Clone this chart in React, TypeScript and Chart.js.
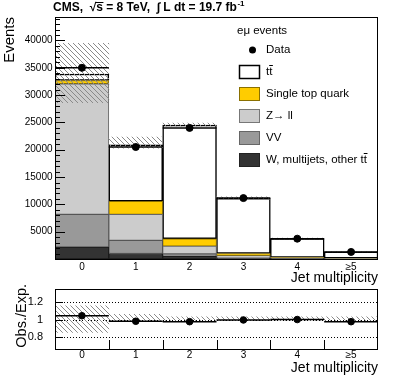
import React, { useEffect, useRef } from "react";
import { Chart, registerables } from "chart.js";

Chart.register(...registerables);

// ---------- data ----------
const jetBins = ["0", "1", "2", "3", "4", "≥5"];
const wOther = [2170, 1000, 500, 150, 60, 30];
const dibosons = [6010, 2400, 450, 200, 60, 30];
const zll = [23900, 4780, 1400, 250, 50, 20];
const singleTop = [600, 2390, 1350, 400, 100, 60];
const ttbar = [1180, 10350, 20800, 10100, 3450, 1180];
const dataCounts = [35000, 20500, 24000, 11150, 3720, 1290];
const uncLow = [28600, 20300, 24300, 10950, 3680, 1300];
const uncHigh = [39500, 22300, 24900, 11400, 3830, 1360];

const ratioVals = [1.044, 0.98, 0.975, 0.995, 1.0, 0.975];
const ratioUncLow = [0.85, 0.98, 0.99, 0.99, 0.99, 0.99];
const ratioUncHigh = [1.16, 1.06, 1.03, 1.03, 1.03, 1.03];

const topTicks = [5000, 10000, 15000, 20000, 25000, 30000, 35000, 40000];
const ratioTicks = [0.8, 1, 1.2];

const FONT = "'Liberation Sans', Arial, Helvetica, sans-serif";

const COLORS = {
  w: "#333333",
  vv: "#999999",
  z: "#cccccc",
  st: "#ffcc00",
  tt: "#ffffff",
};

function makeHatch(): CanvasPattern | string {
  const c = document.createElement("canvas");
  c.width = 5;
  c.height = 5;
  const g = c.getContext("2d");
  if (!g) return "rgba(0,0,0,0.2)";
  g.strokeStyle = "#8a8a8a";
  g.lineWidth = 1;
  g.beginPath();
  for (const k of [-5, 0, 5]) {
    g.moveTo(k, 0);
    g.lineTo(k + 5, 5);
  }
  g.stroke();
  return g.createPattern(c, "repeat") || "rgba(0,0,0,0.2)";
}

function line(ctx: CanvasRenderingContext2D, x0: number, y0: number, x1: number, y1: number) {
  ctx.beginPath();
  ctx.moveTo(x0, y0);
  ctx.lineTo(x1, y1);
  ctx.stroke();
}

// draws prefix + "tt" with a bar over the last t
function drawTTbar(ctx: CanvasRenderingContext2D, text: string, x: number, y: number) {
  const full = text + "tt";
  ctx.fillText(full, x, y);
  const wAll = ctx.measureText(full).width;
  const wT = ctx.measureText("t").width;
  const xs = x + wAll - wT;
  ctx.save();
  ctx.lineWidth = 1;
  ctx.strokeStyle = "#000";
  line(ctx, xs, y - 6.5, xs + wT + 0.5, y - 6.5);
  ctx.restore();
}

const topDecor = {
  id: "topDecor",
  afterDatasetsDraw(chart: any) {
    const { ctx, chartArea: a, scales } = chart;
    const x = scales.x;
    const y = scales.y;
    ctx.save();
    // data horizontal bin-width bars
    ctx.strokeStyle = "#000";
    ctx.lineWidth = 1.5;
    dataCounts.forEach((v, i) => {
      const yy = y.getPixelForValue(v);
      line(ctx, x.getPixelForValue(i - 0.5), yy, x.getPixelForValue(i + 0.5), yy);
    });
    // inner y ticks
    ctx.lineWidth = 1;
    for (let v = 0; v <= 44000; v += 1000) {
      const yy = Math.round(y.getPixelForValue(v)) + 0.5;
      const len = v % 5000 === 0 ? 10 : 5;
      line(ctx, a.left, yy, a.left + len, yy);
    }
    // frame
    ctx.strokeStyle = "#000";
    ctx.strokeRect(Math.round(a.left) + 0.5, Math.round(a.top) + 0.5, Math.round(a.right - a.left) - 1, Math.round(a.bottom - a.top));

    ctx.fillStyle = "#000";
    // title
    ctx.font = `bold 12px ${FONT}`;
    ctx.textBaseline = "middle";
    ctx.textAlign = "left";
    let tx = 53;
    const ty = 8;
    const part1 = "CMS,  ";
    ctx.fillText(part1, tx, ty);
    tx += ctx.measureText(part1).width;
    ctx.fillText("√", tx, ty);
    const wr = ctx.measureText("√").width;
    ctx.fillText("s", tx + wr, ty);
    const ws = ctx.measureText("s").width;
    ctx.lineWidth = 1;
    line(ctx, tx + wr - 1, ty - 5.5, tx + wr + ws + 0.5, ty - 5.5);
    tx += wr + ws;
    const part2 = " = 8 TeV,  ∫ L dt = 19.7 fb";
    ctx.fillText(part2, tx, ty);
    tx += ctx.measureText(part2).width;
    ctx.font = `bold 8px ${FONT}`;
    ctx.fillText("-1", tx + 0.5, ty - 4);

    // "Events"
    ctx.save();
    ctx.translate(14, 17);
    ctx.rotate(-Math.PI / 2);
    ctx.font = `15px ${FONT}`;
    ctx.textAlign = "right";
    ctx.textBaseline = "alphabetic";
    ctx.fillText("Events", 0, 0);
    ctx.restore();

    // "Jet multiplicity"
    ctx.font = `14px ${FONT}`;
    ctx.textAlign = "right";
    ctx.textBaseline = "middle";
    ctx.fillText("Jet multiplicity", 378, 278);

    // legend
    ctx.textAlign = "left";
    ctx.font = `11.5px ${FONT}`;
    ctx.fillText("eμ events", 237, 31);
    ctx.beginPath();
    ctx.arc(252.5, 50, 3.5, 0, Math.PI * 2);
    ctx.fill();
    ctx.fillText("Data", 266, 50);
    const entries = [
      { fill: COLORS.tt, stroke: "#000", lw: 1.5, label: "tt", tbar: true, yc: 72 },
      { fill: COLORS.st, stroke: "#8a7000", lw: 1, label: "Single top quark", tbar: false, yc: 94 },
      { fill: COLORS.z, stroke: "#777", lw: 1, label: "Z→ ll", tbar: false, yc: 116 },
      { fill: COLORS.vv, stroke: "#666", lw: 1, label: "VV", tbar: false, yc: 138 },
      { fill: COLORS.w, stroke: "#222", lw: 1, label: "W, multijets, other ", tbar: true, yc: 160 },
    ];
    for (const e of entries) {
      ctx.fillStyle = e.fill;
      ctx.fillRect(239.5, e.yc - 6.5, 20, 13);
      ctx.strokeStyle = e.stroke;
      ctx.lineWidth = e.lw;
      ctx.strokeRect(239.5, e.yc - 6.5, 20, 13);
      ctx.fillStyle = "#000";
      if (e.tbar) {
        drawTTbar(ctx, e.label === "tt" ? "" : e.label, 266, e.yc);
      } else {
        ctx.fillText(e.label, 266, e.yc);
      }
    }
    ctx.restore();
  },
};

const ratioDecor = {
  id: "ratioDecor",
  beforeDatasetsDraw(chart: any) {
    const { ctx, chartArea: a, scales } = chart;
    const y = scales.y;
    ctx.save();
    ctx.strokeStyle = "#000";
    ctx.lineWidth = 1;
    ctx.setLineDash([1, 2]);
    for (const v of ratioTicks) {
      const yy = Math.round(y.getPixelForValue(v)) + 0.5;
      line(ctx, a.left, yy, a.right, yy);
    }
    ctx.restore();
  },
  afterDatasetsDraw(chart: any) {
    const { ctx, chartArea: a, scales } = chart;
    const x = scales.x;
    const y = scales.y;
    ctx.save();
    ctx.strokeStyle = "#000";
    ctx.lineWidth = 1.5;
    ratioVals.forEach((v, i) => {
      const yy = y.getPixelForValue(v);
      line(ctx, x.getPixelForValue(i - 0.5), yy, x.getPixelForValue(i + 0.5), yy);
    });
    ctx.lineWidth = 1;
    for (let i = 0; i < jetBins.length - 1; i++) {
      const xx = Math.round(x.getPixelForValue(i + 0.5)) + 0.5;
      line(ctx, xx, a.bottom, xx, a.bottom - 9);
    }
    for (const v of ratioTicks) {
      const yy = Math.round(y.getPixelForValue(v)) + 0.5;
      line(ctx, a.left, yy, a.left + 8, yy);
    }
    ctx.strokeRect(Math.round(a.left) + 0.5, Math.round(a.top) + 0.5, Math.round(a.right - a.left) - 1, Math.round(a.bottom - a.top));

    ctx.fillStyle = "#000";
    ctx.save();
    ctx.translate(26, 14);
    ctx.rotate(-Math.PI / 2);
    ctx.font = `14.5px ${FONT}`;
    ctx.textAlign = "right";
    ctx.textBaseline = "alphabetic";
    ctx.fillText("Obs./Exp.", 0, 0);
    ctx.restore();

    ctx.font = `14px ${FONT}`;
    ctx.textAlign = "right";
    ctx.textBaseline = "middle";
    ctx.fillText("Jet multiplicity", 378, 98);
    ctx.restore();
  },
};

export default function App() {
  const topRef = useRef<HTMLCanvasElement | null>(null);
  const ratioRef = useRef<HTMLCanvasElement | null>(null);

  useEffect(() => {
    if (!topRef.current || !ratioRef.current) return;
    const hatch = makeHatch();
    const barCommon = {
      barPercentage: 1,
      categoryPercentage: 1,
      borderSkipped: false as const,
      stack: "mc",
      order: 3,
    };
    const topChart = new Chart(topRef.current, {
      type: "bar",
      data: {
        labels: jetBins,
        datasets: [
          { ...barCommon, label: "W, multijets, other tt", data: wOther, backgroundColor: COLORS.w, borderColor: "#1a1a1a", borderWidth: 1 },
          { ...barCommon, label: "VV", data: dibosons, backgroundColor: COLORS.vv, borderColor: "#555555", borderWidth: 1 },
          { ...barCommon, label: "Z->ll", data: zll, backgroundColor: COLORS.z, borderColor: "#666666", borderWidth: 1 },
          { ...barCommon, label: "Single top quark", data: singleTop, backgroundColor: COLORS.st, borderColor: "#8a7000", borderWidth: 1 },
          { ...barCommon, label: "tt", data: ttbar, backgroundColor: COLORS.tt, borderColor: "#000000", borderWidth: 1.5 },
          {
            label: "Uncertainty",
            data: uncLow.map((l, i) => [l, uncHigh[i]]) as any,
            backgroundColor: hatch as any,
            borderWidth: 0,
            barPercentage: 1,
            categoryPercentage: 1,
            stack: "unc",
            grouped: false,
            order: 2,
          } as any,
          {
            type: "line",
            label: "Data",
            data: dataCounts,
            showLine: false,
            pointRadius: 3.5,
            pointBackgroundColor: "#000",
            pointBorderColor: "#000",
            borderColor: "#000",
            stack: "data",
            order: 1,
          } as any,
        ],
      },
      options: {
        responsive: false,
        animation: false,
        events: [],
        layout: { padding: { top: 17, right: 21, left: 0, bottom: 0 } },
        plugins: { legend: { display: false }, tooltip: { enabled: false } },
        scales: {
          x: {
            type: "category",
            stacked: true,
            offset: true,
            grid: { display: false, drawTicks: false },
            border: { display: false },
            ticks: { color: "#000", font: { family: FONT, size: 10 }, padding: 2, maxRotation: 0, autoSkip: false },
            afterFit: (s: any) => {
              s.height = 26;
            },
          },
          y: {
            stacked: true,
            min: 0,
            max: 44300,
            grid: { display: false, drawTicks: false },
            border: { display: false },
            ticks: {
              color: "#000",
              font: { family: FONT, size: 10 },
              padding: 2.5,
              callback: (v: any) => String(Math.round(Number(v))),
            },
            afterBuildTicks: (s: any) => {
              s.ticks = topTicks.map((v) => ({ value: v }));
            },
            afterFit: (s: any) => {
              s.width = 55;
            },
          },
        },
      } as any,
      plugins: [topDecor],
    });

    const ratioChart = new Chart(ratioRef.current, {
      type: "bar",
      data: {
        labels: jetBins,
        datasets: [
          {
            label: "Uncertainty",
            data: ratioUncLow.map((l, i) => [l, ratioUncHigh[i]]) as any,
            backgroundColor: hatch as any,
            borderWidth: 0,
            barPercentage: 1,
            categoryPercentage: 1,
            order: 2,
          } as any,
          {
            type: "line",
            label: "Obs./Exp.",
            data: ratioVals,
            showLine: false,
            pointRadius: 3.3,
            pointBackgroundColor: "#000",
            pointBorderColor: "#000",
            borderColor: "#000",
            order: 1,
          } as any,
        ],
      },
      options: {
        responsive: false,
        animation: false,
        events: [],
        layout: { padding: { top: 18, right: 21, left: 0, bottom: 0 } },
        plugins: { legend: { display: false }, tooltip: { enabled: false } },
        scales: {
          x: {
            type: "category",
            offset: true,
            grid: { display: false, drawTicks: false },
            border: { display: false },
            ticks: { color: "#000", font: { family: FONT, size: 10 }, padding: 0, maxRotation: 0, autoSkip: false },
            afterFit: (s: any) => {
              s.height = 34;
            },
          },
          y: {
            min: 0.657,
            max: 1.36,
            grid: { display: false, drawTicks: false },
            border: { display: false },
            ticks: {
              color: "#000",
              font: { family: FONT, size: 11 },
              padding: 12,
              callback: (v: any) => (Math.abs(v - 1) < 1e-6 ? "1" : Number(v).toFixed(1)),
            },
            afterBuildTicks: (s: any) => {
              s.ticks = ratioTicks.map((v) => ({ value: v }));
            },
            afterFit: (s: any) => {
              s.width = 55;
            },
          },
        },
      } as any,
      plugins: [ratioDecor],
    });

    return () => {
      topChart.destroy();
      ratioChart.destroy();
    };
  }, []);

  return (
    <div style={{ position: "absolute", left: 0, top: 0, width: 399, height: 383, background: "#fff", overflow: "hidden" }}>
      <canvas ref={topRef} width={399} height={285} style={{ position: "absolute", left: 0, top: 0, width: 399, height: 285 }} />
      <canvas ref={ratioRef} width={399} height={113} style={{ position: "absolute", left: 0, top: 270, width: 399, height: 113 }} />
    </div>
  );
}
